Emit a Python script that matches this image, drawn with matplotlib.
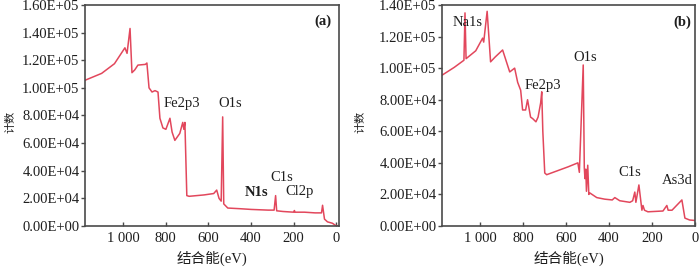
import matplotlib
matplotlib.use("Agg")
import matplotlib.pyplot as plt
from matplotlib.ticker import FuncFormatter, FixedLocator

# ---------------- data: panel (a) ----------------
a_ev = [1178, 1100, 1040, 991, 981, 967, 958, 945, 930, 895, 888, 878, 864, 850,
        836, 827, 813, 799, 780, 770, 757, 734, 720, 715, 710, 701, 690, 620, 575,
        561, 550, 540, 533, 528, 509, 450, 400, 320, 292, 285, 280, 250, 200, 197,
        194, 150, 100, 70, 65, 56, 42, 19, 5, -10]
a_counts = [105500, 110500, 117500, 129000, 125000, 143000, 111000, 113000, 116500,
            117000, 118000, 100000, 97000, 98000, 97000, 78000, 71000, 70000, 78000,
            68000, 62000, 67000, 75000, 70000, 75000, 22000, 21500, 22500, 23500,
            26000, 20000, 18000, 79000, 16000, 13000, 12500, 12000, 11500, 11500,
            22000, 11000, 10500, 10000, 11200, 10000, 10000, 9500, 9500, 15000, 5000,
            3000, 2000, 500, 0]

# ---------------- data: panel (b) ----------------
b_ev = [1175, 1120, 1075, 1070, 1065, 1020, 988, 983, 967, 951, 930, 895, 862, 839,
        825, 811, 802, 788, 779, 765, 755, 740, 730, 718, 713, 708, 699, 690, 640,
        590, 545, 538, 520, 515, 512, 508, 505, 499, 494, 490, 457, 420, 385, 373,
        350, 303, 290, 280, 275, 261, 247, 242, 235, 219, 149, 131, 125, 107, 61,
        47, 25, 0]
b_counts = [95700, 100500, 105000, 135000, 106000, 111000, 119000, 116500, 136000,
            104000, 107000, 111500, 97600, 100000, 91000, 86000, 73500, 73500, 80000,
            69000, 68000, 66000, 69000, 78000, 85000, 60000, 33600, 32500, 35000,
            37500, 40000, 34000, 102000, 37000, 30000, 36000, 22000, 38500, 20000,
            21000, 18000, 17000, 16500, 18000, 16000, 15000, 16000, 21500, 15000,
            26000, 10000, 13000, 10000, 9000, 9500, 13000, 10000, 10000, 16500,
            5000, 3800, 3500]

x_ticks = [1000, 800, 600, 400, 200, 0]
x_tick_labels = ["1 000", "800", "600", "400", "200", "0"]
a_yticks = [0, 20000, 40000, 60000, 80000, 100000, 120000, 140000, 160000]
b_yticks = [0, 20000, 40000, 60000, 80000, 100000, 120000, 140000]

a_labels = [("Fe2p3", 724, 89000, "normal"), ("O1s", 500, 89000, "normal"),
            ("N1s", 374, 24000, "bold"), ("C1s", 257, 35000, "normal"),
            ("Cl2p", 173, 25000, "normal")]
b_labels = [("Na1s", 1060, 129000, "normal"), ("Fe2p3", 708, 89000, "normal"),
            ("O1s", 513, 107000, "normal"), ("C1s", 303, 33600, "normal"),
            ("As3d", 84, 29000, "normal")]

SERIF = ["Liberation Serif", "DejaVu Serif"]
CJK = ["Liberation Serif", "Noto Sans CJK SC"]
LINE = "#e2475c"
SPINE = "#4a4a4a"
TXT = "#1e1e1e"
FS = 10.5

plt.rcParams["font.family"] = SERIF

fig = plt.figure(figsize=(7.0, 2.7), dpi=100)
ax_a = fig.add_axes([85 / 700, 1 - 226 / 270, 254 / 700, 221 / 270])
ax_b = fig.add_axes([442 / 700, 1 - 226 / 270, 253 / 700, 221 / 270])


def sci(v, pos):
    return "%.2E" % v


def style(ax, xlim, yticks, ylabel_x):
    ax.set_xlim(*xlim)
    ax.set_ylim(yticks[0], yticks[-1])
    ax.xaxis.set_major_locator(FixedLocator(x_ticks))
    ax.set_xticklabels(x_tick_labels)
    ax.yaxis.set_major_locator(FixedLocator(yticks))
    ax.yaxis.set_major_formatter(FuncFormatter(sci))
    ax.tick_params(axis="x", direction="in", length=3, width=1, pad=4,
                   labelsize=FS, colors=SPINE, labelcolor=TXT)
    ax.tick_params(axis="y", direction="out", length=3, width=1, pad=1,
                   labelsize=FS, colors=SPINE, labelcolor=TXT)
    for s in ax.spines.values():
        s.set_color(SPINE)
        s.set_linewidth(1.2)
    ax.set_xlabel("结合能(eV)", family=CJK, fontsize=FS, color=TXT)
    ax.xaxis.label.set_va("center")
    ax.xaxis.set_label_coords(0.5, -0.145)
    ax.set_ylabel("计数", family=["Noto Sans CJK SC"], fontsize=8, color=TXT)
    ax.yaxis.label.set_va("center")
    ax.yaxis.label.set_ha("center")
    ax.yaxis.set_label_coords(ylabel_x, 0.47)


ax_a.plot(a_ev, a_counts, color=LINE, lw=1.1)
style(ax_a, (1178, -12), a_yticks, -0.295)
for t, x, y, w in a_labels:
    ax_a.text(x, y, t, ha="center", va="center", fontsize=FS, fontweight=w, color=TXT)
ax_a.text(65, 148000, "(a)", ha="center", va="center", fontsize=FS,
          fontweight="bold", color=TXT)

ax_b.plot(b_ev, b_counts, color=LINE, lw=1.1)
style(ax_b, (1177, 0), b_yticks, -0.324)
for t, x, y, w in b_labels:
    ax_b.text(x, y, t, ha="center", va="center", fontsize=FS, fontweight=w, color=TXT)
ax_b.text(61, 129000, "(b)", ha="center", va="center", fontsize=FS,
          fontweight="bold", color=TXT)

fig.savefig("out.png", dpi=100)
